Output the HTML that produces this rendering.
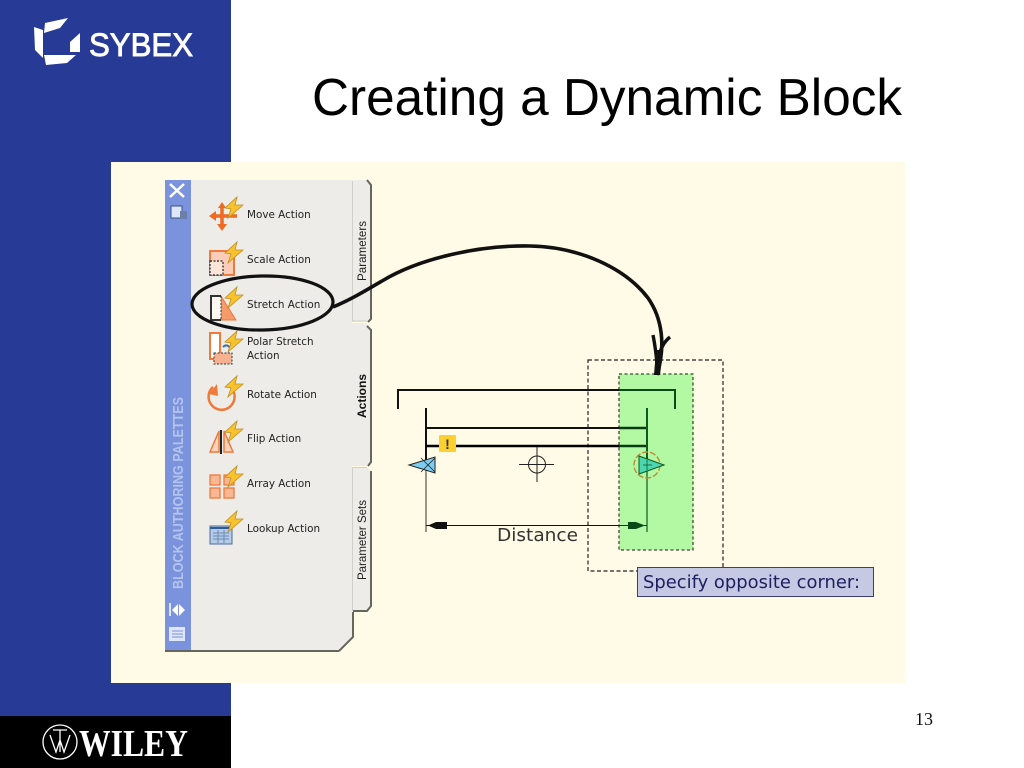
<!DOCTYPE html>
<html><head><meta charset="utf-8"><style>
html,body{margin:0;padding:0;background:#fff;width:1024px;height:768px;overflow:hidden}
svg{display:block}
text{font-family:"Liberation Sans",sans-serif}
.m{font-family:"DejaVu Sans",sans-serif;font-size:10.4px;fill:#222}
</style></head><body>
<svg width="1024" height="768" viewBox="0 0 1024 768" xmlns="http://www.w3.org/2000/svg">
<rect x="0" y="0" width="231" height="716" fill="#273a96"/>
<rect x="0" y="716" width="231" height="52" fill="#000"/>
<rect x="111" y="162" width="794" height="521" fill="#fffbe6"/>
<!-- Sybex logo -->
<g fill="#fff">
<polygon points="45,23 68,18 60,28 44,33"/>
<polygon points="34,27 43,30 43,58 35,50"/>
<polygon points="44,55 76,55 67,63 46,65"/>
<polygon points="70,42 80,33 80,52 70,52"/>
<text x="89" y="56" stroke="#fff" stroke-width="0.9" style="font-size:32px" textLength="104" lengthAdjust="spacingAndGlyphs">SYBEX</text>
</g>
<!-- Wiley logo -->
<circle cx="60" cy="742" r="17" fill="none" stroke="#fff" stroke-width="1.3"/>
<path d="M50 735 L56 752 L60 740 L64 752 L70 735 M53 730 H67 M60 730 V752" fill="none" stroke="#fff" stroke-width="1.3"/>
<text x="79" y="756" style="font-family:'Liberation Serif',serif;font-size:38px;font-weight:700" fill="#fff" textLength="109" lengthAdjust="spacingAndGlyphs">WILEY</text>
<!-- Title -->
<text x="312" y="115" style="font-size:52px" fill="#000" textLength="590" lengthAdjust="spacingAndGlyphs">Creating a Dynamic Block</text>
<text x="915" y="725" style="font-family:'Liberation Serif',serif;font-size:18px" fill="#111">13</text>
<!-- Palette -->
<path d="M191 180 H352 V612 H353 V637 L339 650 H191 Z" fill="#edece8"/>
<path d="M165 180 H191 V650 H165 Z" fill="#7b93dc"/>
<path d="M339 651 L353 637 V612" fill="none" stroke="#66665f" stroke-width="2"/>
<path d="M165 651 H339" stroke="#66665f" stroke-width="2" fill="none"/>
<!-- tabs -->
<path d="M352 180 H367 L371 185 V319 L367 322 H352 Z" fill="#edece8"/>
<path d="M367 180 L371 185 V319 L368 322" fill="none" stroke="#66665f" stroke-width="2"/>
<path d="M352.500 181 V321 H367" fill="none" stroke="#d0cfc8" stroke-width="1"/>
<path d="M345 323 H366 L371 329 V462 L368 466 H345 Z" fill="#edece8"/>
<path d="M367 326 L371 330 V462 L368 466" fill="none" stroke="#66665f" stroke-width="2"/>
<path d="M352 467 H367 L371 471 V606 L367 611 H352 Z" fill="#edece8"/>
<path d="M352.500 467.500 H367 M352.500 467.500 V611" fill="none" stroke="#d0cfc8"/>
<path d="M371 471 V606 L367 611 H353" fill="none" stroke="#66665f" stroke-width="2"/>
<text transform="translate(366,281) rotate(-90)" style="font-size:11.500px" fill="#222" textLength="60" lengthAdjust="spacingAndGlyphs">Parameters</text>
<text transform="translate(366,418) rotate(-90)" style="font-size:11.500px;font-weight:700" fill="#111" textLength="44" lengthAdjust="spacingAndGlyphs">Actions</text>
<text transform="translate(366,580) rotate(-90)" style="font-size:11.500px" fill="#222" textLength="80" lengthAdjust="spacingAndGlyphs">Parameter Sets</text>
<!-- strip -->
<path d="M170 184 L184 197 M184 184 L170 197" stroke="#fff" stroke-width="2.500"/>
<rect x="171" y="206" width="11" height="12" fill="#dfe6f6" stroke="#34508e"/>
<rect x="180" y="211" width="7" height="8" fill="#6b7fa8"/>
<text transform="translate(183,589) rotate(-90)" style="font-size:14.500px;font-weight:700" fill="#b4c4ef" textLength="192" lengthAdjust="spacingAndGlyphs">BLOCK AUTHORING PALETTES</text>
<path d="M170 603 V616" stroke="#fff" stroke-width="1.500"/><path d="M172 610 L178 604 V616 Z M185 610 L179 604 V616 Z" fill="#fff"/>
<rect x="169" y="627" width="16" height="14" fill="#dfe6f8"/><path d="M172 631 H183 M172 634 H183 M172 637 H183" stroke="#7b93dc"/>
<!-- labels -->
<text class="m" x="247" y="218">Move Action</text>
<text class="m" x="247" y="263">Scale Action</text>
<text class="m" x="247" y="308">Stretch Action</text>
<text class="m" x="247" y="345">Polar Stretch</text>
<text class="m" x="247" y="359">Action</text>
<text class="m" x="247" y="398">Rotate Action</text>
<text class="m" x="247" y="442">Flip Action</text>
<text class="m" x="247" y="487">Array Action</text>
<text class="m" x="247" y="532">Lookup Action</text>
<!-- icons -->
<defs>
<polygon id="b" points="12,0 10,8 18,8 3,21 6,12 0,11" fill="#f8c22e" stroke="#c08f20" stroke-width="0.8"/>
</defs>
<path d="M212 216 H237 M222 206 V227" stroke="#ef6a22" stroke-width="3.500"/>
<path d="M209 216 L216 211 V221 Z M222 231 L217 224 H227 Z M222 202 L218 208 H226 Z" fill="#ef6a22"/>
<use href="#b" x="225" y="197"/>
<rect x="210" y="251" width="24" height="24" fill="#fbcdb8" stroke="#ef7a3a" stroke-width="2"/>
<rect x="210" y="261" width="13" height="14" fill="#fde4d8" stroke="#222" stroke-width="1.200" stroke-dasharray="2 1.500"/>
<use href="#b" x="225" y="242"/>
<polygon points="221,296 236,320 221,320" fill="#f59a6b" stroke="#ef7a3a"/>
<path d="M221 296 H211 V320 H221" fill="#fff8f0" stroke="#333" stroke-width="2"/>
<path d="M221 296 V320" stroke="#333" stroke-dasharray="2 1.500"/>
<use href="#b" x="225" y="287"/>
<rect x="210" y="333" width="10" height="26" fill="#fff" stroke="#ef7a3a" stroke-width="2"/>
<rect x="214" y="353" width="18" height="11" fill="#f7b090" stroke="#333" stroke-dasharray="2 1.500"/>
<path d="M223 347 Q227 343 231 349" stroke="#3a6fb0" stroke-width="2" fill="none"/>
<use href="#b" x="225" y="331"/>
<path d="M232 389 A13 13 0 1 1 213 387" fill="none" stroke="#ef7a3a" stroke-width="2.500"/>
<polygon points="209,394 217,384 218,396" fill="#ef7a3a"/>
<use href="#b" x="225" y="376"/>
<polygon points="219,431 219,452 210,452" fill="#fbd3bf" stroke="#ef7a3a" stroke-width="1.500"/>
<polygon points="224,431 224,452 233,452" fill="#fbd3bf" stroke="#ef7a3a" stroke-width="1.500"/>
<path d="M221 430 V454" stroke="#222" stroke-width="2"/>
<use href="#b" x="225" y="421"/>
<g fill="#f9b796" stroke="#ef7a3a" stroke-width="1.300">
<rect x="210" y="475" width="10" height="10"/><rect x="224" y="475" width="10" height="10"/><rect x="210" y="488" width="10" height="10"/><rect x="224" y="488" width="10" height="10"/></g>
<use href="#b" x="225" y="466"/>
<rect x="210" y="526" width="22" height="18" fill="#b5cbe8" stroke="#4a6d9a"/>
<path d="M210 528 H232" stroke="#2f5c94" stroke-width="2"/><path d="M213 533 H229 M213 536 H229 M213 539 H229 M218 530 V543 M224 530 V543" stroke="#6c8bb4"/>
<use href="#b" x="225" y="511"/>
<!-- selection -->
<rect x="619" y="374" width="74" height="176" fill="#b3f9a3"/>
<rect x="588" y="360" width="135" height="211" fill="none" stroke="#222" stroke-width="1.200" stroke-dasharray="4 2.500"/>
<rect x="619" y="374" width="74" height="176" fill="none" stroke="#3a4a38" stroke-dasharray="3 2.500" stroke-width="1.300"/>
<!-- drawing -->
<path d="M398 409 V390 H620" fill="none" stroke="#111" stroke-width="2"/>
<path d="M619 390 H675 V409" fill="none" stroke="#0a4a18" stroke-width="2"/>
<path d="M426 408 V469" stroke="#111" stroke-width="2"/>
<path d="M426 469 V532" stroke="#333" stroke-width="1"/>
<path d="M426 428 H620" stroke="#111" stroke-width="2"/>
<path d="M426 446 H620" stroke="#000" stroke-width="2.600"/>
<path d="M619 428 H647 M619 446 H647" stroke="#0a3c14" stroke-width="2.400"/>
<path d="M647 408 V460" stroke="#0c5a1c" stroke-width="2"/>
<path d="M647 470 V532" stroke="#2c7a36" stroke-width="1.500"/>
<rect x="439" y="435" width="17" height="17" rx="1" fill="#fcd030"/>
<text x="447.500" y="449" text-anchor="middle" style="font-size:14px;font-weight:700" fill="#333">!</text>
<polygon points="409,465 435,457 435,473" fill="#7dcdf2" stroke="#222"/>
<path d="M421 458 L435 472 M435 458 L421 472" stroke="#222" stroke-width="0.800"/>
<circle cx="537" cy="464.500" r="8.500" fill="none" stroke="#222"/>
<path d="M519 464.500 H554 M537 447 V482" stroke="#222"/>
<path d="M426 525.500 H619" stroke="#111"/>
<path d="M619 525.500 H647" stroke="#0a3c14"/>
<polygon points="428,525.500 436,522 447,522 447,529 436,529" fill="#111"/>
<polygon points="645,525.500 636,522 628,522 628,529 636,529" fill="#0a4a18"/>
<text x="497" y="541" style="font-family:'DejaVu Sans',sans-serif;font-size:18px" fill="#333" textLength="81" lengthAdjust="spacingAndGlyphs">Distance</text>
<!-- grip -->
<circle cx="647" cy="465" r="13" fill="none" stroke="#b98a3a" stroke-width="1.400" stroke-dasharray="6 2"/>
<polygon points="639,456 664,465 639,474" fill="#4bd5b0" stroke="#0c5a1c"/>
<path d="M643 465 H652 M647 460 V470" stroke="#0c5a1c" stroke-width="0.800"/>
<!-- tooltip -->
<rect x="637.500" y="567.500" width="236" height="29" fill="#c6c9e4" stroke="#3a3f7a"/>
<text x="643" y="588" style="font-family:'DejaVu Sans',sans-serif;font-size:18px" fill="#1d2060" textLength="217" lengthAdjust="spacingAndGlyphs">Specify opposite corner:</text>
<!-- annotation -->
<ellipse cx="262.500" cy="303" rx="70.500" ry="27" transform="rotate(-1 262.500 303)" fill="none" stroke="#111" stroke-width="3.200"/>
<path d="M333 307 C350 300 365 291 382 281 C420 258 480 245 530 246 C580 247 625 268 648 298 C662 318 666 345 657 375" fill="none" stroke="#111" stroke-width="3.600"/>
<path d="M653 335 C655 345 656 352 657 364 M670 337 C665 341 661 347 659 356" fill="none" stroke="#111" stroke-width="3.400"/>
<polygon points="654,375 660,375 663,350 656,350" fill="#111"/>
</svg>
</body></html>
